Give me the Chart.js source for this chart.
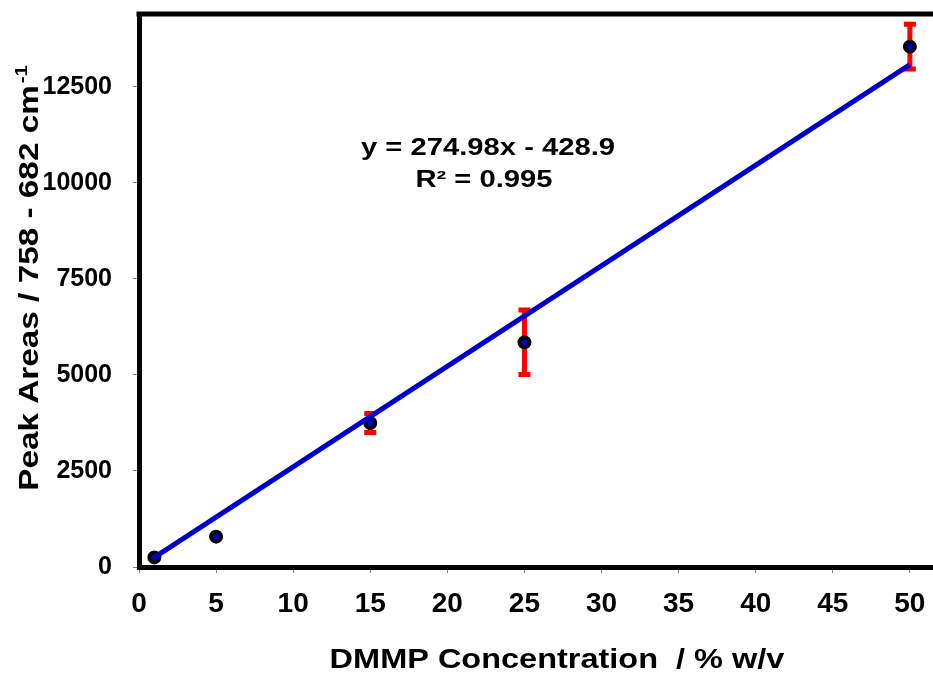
<!DOCTYPE html>
<html><head><meta charset="utf-8">
<script src="https://cdn.jsdelivr.net/npm/chart.js@4.4.1/dist/chart.umd.min.js"></script>
<style>html,body{margin:0;padding:0;background:#fff}#wrap{width:933px;height:674px}</style>
</head><body><div id="wrap"><canvas id="c" width="933" height="674"></canvas></div>
<script>
const concentrations = [1, 5, 15, 25, 50];
const peakAreas = [250, 790, 3750, 5850, 13550];
const errors = [0, 0, 250, 840, 580];
const trendX = [1, 50];
const trendY = [250, 13080];
const xTicks = [0, 5, 10, 15, 20, 25, 30, 35, 40, 45, 50];
const yTicks = [0, 2500, 5000, 7500, 10000, 12500];
const equationText = 'y = 274.98x - 428.9';
const r2Text = 'R² = 0.995';
const xTitle = 'DMMP Concentration  / % w/v';
const yTitle = 'Peak Areas / 758 - 682 cm';
const yTitleSup = '-1';

const FONT = '"Liberation Sans", Arial, sans-serif';

function wideText(ctx, text, x, y, px, sx) {
  ctx.save();
  ctx.font = 'bold ' + px + 'px ' + FONT;
  ctx.translate(x, y);
  ctx.scale(sx, 1);
  ctx.textAlign = 'center';
  ctx.textBaseline = 'alphabetic';
  ctx.fillText(text, 0, 0);
  ctx.restore();
}

const extras = {
  id: 'extras',
  beforeDatasetsDraw(chart) {
    const ctx = chart.ctx, xs = chart.scales.x, ys = chart.scales.y;
    ctx.save();
    ctx.strokeStyle = '#FF0000';
    ctx.lineWidth = 5;
    ctx.lineCap = 'butt';
    concentrations.forEach((c, i) => {
      if (!errors[i]) return;
      const px = xs.getPixelForValue(c);
      const top = ys.getPixelForValue(peakAreas[i] + errors[i]);
      const bot = ys.getPixelForValue(peakAreas[i] - errors[i]);
      ctx.beginPath();
      ctx.moveTo(px, top); ctx.lineTo(px, bot);
      ctx.moveTo(px - 6, top); ctx.lineTo(px + 6, top);
      ctx.moveTo(px - 6, bot); ctx.lineTo(px + 6, bot);
      ctx.stroke();
    });
    ctx.restore();
  },
  afterDraw(chart) {
    const ctx = chart.ctx, a = chart.chartArea;
    ctx.save();
    ctx.strokeStyle = '#000';
    ctx.lineWidth = 5;
    ctx.beginPath();
    ctx.moveTo(a.left - 2.5, a.top);
    ctx.lineTo(933, a.top);
    ctx.stroke();
    ctx.fillStyle = '#000';
    wideText(ctx, equationText, 488, 155, 23, 1.27);
    wideText(ctx, r2Text, 484, 187, 23, 1.27);
    wideText(ctx, xTitle, 557, 668, 28, 1.16);
    // y title rotated
    ctx.translate(38, 0);
    ctx.rotate(-Math.PI / 2);
    const sx = 1.19;
    ctx.font = 'bold 28px ' + FONT;
    const w1 = ctx.measureText(yTitle).width * sx;
    ctx.font = 'bold 17px ' + FONT;
    const w2 = ctx.measureText(yTitleSup).width * sx;
    const total = w1 + w2 + 2;
    const startAlong = 278 + total / 2;
    ctx.textAlign = 'left';
    ctx.textBaseline = 'alphabetic';
    ctx.save();
    ctx.translate(-startAlong, 0);
    ctx.scale(sx, 1);
    ctx.font = 'bold 28px ' + FONT;
    ctx.fillText(yTitle, 0, 0);
    ctx.restore();
    ctx.save();
    ctx.translate(-startAlong + w1 + 2, -11);
    ctx.scale(sx, 1);
    ctx.font = 'bold 17px ' + FONT;
    ctx.fillText(yTitleSup, 0, 0);
    ctx.restore();
    ctx.restore();
  }
};

function zeroPad(s) { s.paddingTop = 0; s.paddingBottom = 0; s.paddingLeft = 0; s.paddingRight = 0; }

new Chart(document.getElementById('c'), {
  type: 'scatter',
  data: {
    datasets: [
      {
        type: 'line',
        data: trendX.map((x, i) => ({x: x, y: trendY[i]})),
        borderColor: '#0000CC',
        borderWidth: 5,
        pointRadius: 0,
        fill: false,
        order: 0
      },
      {
        data: concentrations.map((x, i) => ({x: x, y: peakAreas[i]})),
        backgroundColor: '#0000CC',
        borderColor: '#000000',
        borderWidth: 4,
        pointRadius: 5,
        order: 1
      }
    ]
  },
  options: {
    responsive: false,
    animation: false,
    events: [],
    layout: {autoPadding: false, padding: {left: 0, top: 14, right: 0, bottom: 0}},
    plugins: {legend: {display: false}, tooltip: {enabled: false}},
    scales: {
      x: {
        type: 'linear', min: 0, max: 51.5,
        afterBuildTicks: s => { s.ticks = xTicks.map(v => ({value: v})); },
        afterFit: s => { s.height = 107; zeroPad(s); },
        grid: {display: true, drawOnChartArea: false, drawTicks: true, tickLength: 6, color: '#808080'},
        border: {display: true, color: '#000', width: 5},
        ticks: {color: '#000', font: {family: FONT, size: 28, weight: 'bold'}, padding: 14, maxRotation: 0,
                callback: v => String(v)}
      },
      y: {
        type: 'linear', min: 0, max: 14400,
        afterBuildTicks: s => { s.ticks = yTicks.map(v => ({value: v})); },
        afterFit: s => { s.width = 139; zeroPad(s); },
        grid: {display: true, drawOnChartArea: false, drawTicks: true, tickLength: 6, color: '#808080'},
        border: {display: true, color: '#000', width: 5},
        ticks: {color: '#000', font: {family: FONT, size: 25, weight: 'bold'}, padding: 21,
                callback: v => String(v)}
      }
    }
  },
  plugins: [extras]
});
</script>
</body></html>
